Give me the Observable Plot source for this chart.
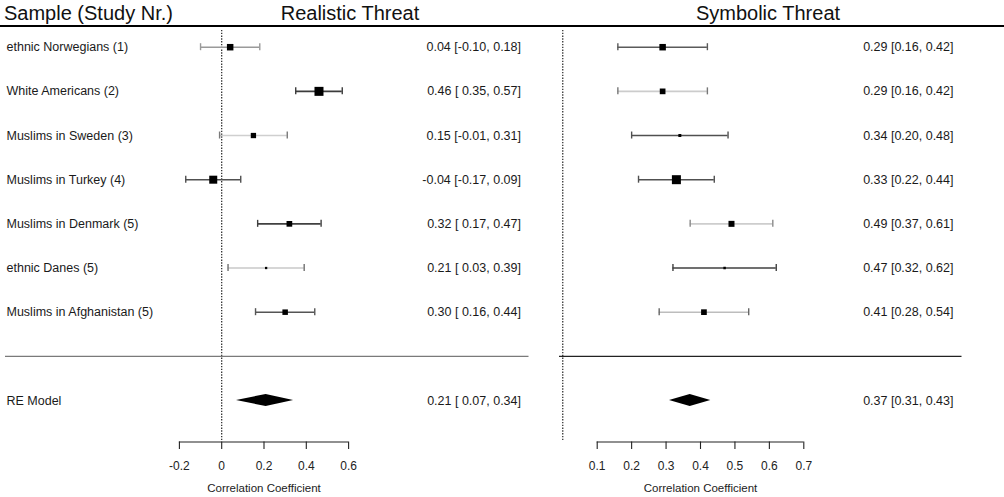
<!DOCTYPE html>
<html>
<head>
<meta charset="utf-8">
<script src="https://cdn.jsdelivr.net/npm/d3@7"></script>
<script src="https://cdn.jsdelivr.net/npm/@observablehq/plot@0.6"></script>
<style>
  html, body { margin: 0; padding: 0; background: #fff; }
  body { width: 1004px; height: 497px; position: relative; overflow: hidden;
         font-family: "Liberation Sans", Arial, sans-serif; color: #111; }
  #header { position: absolute; left: 0; top: 0; width: 1004px; height: 28px; }
  #header span { position: absolute; top: 1px; font-size: 20px; line-height: 24px; white-space: nowrap; }
  #header .rule { position: absolute; left: 0; top: 25px; width: 1004px; height: 2px; background: #000; }
  #left { position: absolute; left: 0; top: 28px; }
  #right { position: absolute; left: 548px; top: 28px; }
</style>
</head>
<body>
<div id="header"></div>
<div id="left"></div>
<div id="right"></div>
<script>
// ---------------- data ----------------
const headerLabel = "Sample (Study Nr.)";
const panelTitles = ["Realistic Threat", "Symbolic Threat"];
const studies = [
  "ethnic Norwegians (1)",
  "White Americans (2)",
  "Muslims in Sweden (3)",
  "Muslims in Turkey (4)",
  "Muslims in Denmark (5)",
  "ethnic Danes (5)",
  "Muslims in Afghanistan (5)"
];
const modelLabel = "RE Model";
const xTitle = "Correlation Coefficient";

// Realistic threat
const realEst = [0.04, 0.46, 0.15, -0.04, 0.32, 0.21, 0.30];
const realLo  = [-0.10, 0.35, -0.01, -0.17, 0.17, 0.03, 0.16];
const realHi  = [0.18, 0.57, 0.31, 0.09, 0.47, 0.39, 0.44];
const realWeight = [6.5, 9.0, 5.3, 8.0, 5.7, 2.3, 5.5];
const realRE = [0.21, 0.07, 0.34]; // estimate, lower, upper
const realTicks = [-0.2, 0, 0.2, 0.4, 0.6];

// Symbolic threat
const symEst = [0.29, 0.29, 0.34, 0.33, 0.49, 0.47, 0.41];
const symLo  = [0.16, 0.16, 0.20, 0.22, 0.37, 0.32, 0.28];
const symHi  = [0.42, 0.42, 0.48, 0.44, 0.61, 0.62, 0.54];
const symWeight = [6.5, 5.7, 3.0, 9.0, 6.0, 2.5, 5.7];
const symRE = [0.37, 0.31, 0.43];
const symTicks = [0.1, 0.2, 0.3, 0.4, 0.5, 0.6, 0.7];

// ---------------- styles ----------------
const realLineShade = ["#9a9a9a", "#3c3c3c", "#cfcfcf", "#505050", "#404040", "#c8c8c8", "#555555"];
const realCapShade  = ["#9a9a9a", "#3c3c3c", "#7a7a7a", "#505050", "#404040", "#707070", "#555555"];
const symLineShade  = ["#5a5a5a", "#cccccc", "#505050", "#505050", "#cdcdcd", "#404040", "#bdbdbd"];
const symCapShade   = ["#5a5a5a", "#777777", "#505050", "#505050", "#8a8a8a", "#404040", "#666666"];

const FONT = "'Liberation Sans', Arial, sans-serif";
const H = 469;
const Y_DOMAIN = [-1, 7];
const Y_RANGE = [372, 18.7];
const AXIS_ROW = -1.94;
const TOP_ROW = 7.38;
const DIAMOND_HALF = 0.137;

const f2 = v => v.toFixed(2);

function buildRows(est, lo, hi, w, lineC, capC) {
  const n = studies.length;
  const pad = lo.some(v => v < 0);
  return studies.map((s, i) => ({
    study: s, row: n - i, est: est[i], lo: lo[i], hi: hi[i], w: w[i],
    line: lineC[i], cap: capC[i],
    ann: `${f2(est[i])} [${pad && lo[i] >= 0 ? " " : ""}${f2(lo[i])}, ${f2(hi[i])}]`
  }));
}

function panel(cfg) {
  const rows = buildRows(cfg.est, cfg.lo, cfg.hi, cfg.w, cfg.lineC, cfg.capC);
  const pad = cfg.lo.concat([cfg.re[1]]).some(v => v < 0);
  const [reE, reL, reH] = cfg.re;
  const reRow = -1;
  const model = [{label: modelLabel, row: reRow,
    ann: `${f2(reE)} [${pad && reL >= 0 ? " " : ""}${f2(reL)}, ${f2(reH)}]`}];
  const diamond = [
    {x: reL, y1: reRow, y2: reRow},
    {x: reE, y1: reRow - DIAMOND_HALF, y2: reRow + DIAMOND_HALF},
    {x: reH, y1: reRow, y2: reRow}
  ];
  const ticks = cfg.ticks;
  const tmin = d3.min(ticks), tmax = d3.max(ticks);
  const marks = [
    Plot.ruleX([0], {x: d => d, y1: TOP_ROW, y2: AXIS_ROW, stroke: "#222", strokeWidth: 1.2, strokeDasharray: "1.4,1.4"}),
    Plot.ruleY([0], {y: d => d, insetLeft: cfg.sepInset[0], insetRight: cfg.sepInset[1], stroke: cfg.sepColor, strokeWidth: 1.2}),
    Plot.ruleY(rows, {y: "row", x1: "lo", x2: "hi", stroke: "line", strokeWidth: 1.6}),
    Plot.ruleX(rows, {x: "lo", y1: "row", y2: "row", insetTop: -3.5, insetBottom: -3.5, stroke: "cap", strokeWidth: 1.4}),
    Plot.ruleX(rows, {x: "hi", y1: "row", y2: "row", insetTop: -3.5, insetBottom: -3.5, stroke: "cap", strokeWidth: 1.4}),
    Plot.dot(rows, {x: "est", y: "row", r: "w", symbol: "square", fill: "#000", stroke: null}),
    Plot.areaY(diamond, {x: "x", y1: "y1", y2: "y2", fill: "#000", curve: "linear"}),
    Plot.text(rows.concat(model), {y: "row", text: "ann", frameAnchor: "right", textAnchor: "end", dx: cfg.annDx, fontSize: 12.5, fill: "#1a1a1a"}),
    Plot.ruleY([AXIS_ROW], {y: d => d, x1: tmin, x2: tmax, stroke: "#222", strokeWidth: 1.1}),
    Plot.ruleX(ticks, {x: d => d, y1: AXIS_ROW, y2: AXIS_ROW, insetBottom: -7.5, stroke: "#222", strokeWidth: 1.1}),
    Plot.text(ticks, {x: d => d, y: AXIS_ROW, dy: 24.5, text: d => String(d), fontSize: 12, fill: "#222"}),
    Plot.text([xTitle], {x: (tmin + tmax) / 2, y: AXIS_ROW, dy: 46.5, text: d => d, fontSize: 11.5, fill: "#222"})
  ];
  if (cfg.labels) {
    marks.push(Plot.text(rows.concat(model), {y: "row", text: d => d.study ?? d.label, frameAnchor: "left", textAnchor: "start", dx: 6, fontSize: 12.5, fill: "#1a1a1a"}));
  }
  return Plot.plot({
    width: cfg.width,
    height: H,
    marginTop: 0, marginBottom: 0, marginLeft: 0, marginRight: 0,
    style: {fontFamily: FONT, background: "transparent", overflow: "visible"},
    x: {domain: [tmin, tmax], range: cfg.xRange, axis: null},
    y: {domain: Y_DOMAIN, range: Y_RANGE, axis: null},
    r: {type: "linear", domain: [0, 10], range: [0, 10 / Math.sqrt(Math.PI)]},
    marks
  });
}

document.getElementById("left").appendChild(panel({
  width: 548, est: realEst, lo: realLo, hi: realHi, w: realWeight,
  lineC: realLineShade, capC: realCapShade, re: realRE, ticks: realTicks,
  xRange: [178.9, 348.1], labels: true, annDx: -27.5,
  sepInset: [5, 19.5], sepColor: "#7a7a7a"
}));
document.getElementById("right").appendChild(panel({
  width: 456, est: symEst, lo: symLo, hi: symHi, w: symWeight,
  lineC: symLineShade, capC: symCapShade, re: symRE, ticks: symTicks,
  xRange: [48.7, 255.3], labels: false, annDx: -51,
  sepInset: [11, 42.5], sepColor: "#222"
}));

// header
const header = document.getElementById("header");
const mk = (txt, css) => { const s = document.createElement("span"); s.textContent = txt; Object.assign(s.style, css); header.appendChild(s); };
mk(headerLabel, {left: "4px"});
mk(panelTitles[0], {left: "350px", transform: "translateX(-50%)"});
mk(panelTitles[1], {left: "768px", transform: "translateX(-50%)"});
const rule = document.createElement("div"); rule.className = "rule"; header.appendChild(rule);
</script>
</body>
</html>
